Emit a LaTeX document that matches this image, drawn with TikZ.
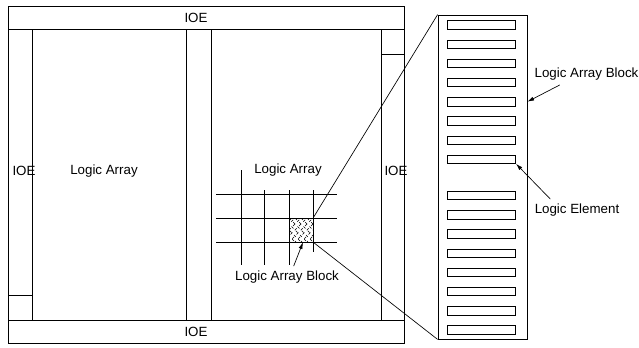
\documentclass[tikz,border=0pt]{standalone}
\usepackage{fontspec}
\setmainfont{Liberation Sans}
\usetikzlibrary{arrows.meta, positioning}

\begin{document}
\begin{tikzpicture}[
  x=0.75pt, y=-0.75pt,
  every node/.style = {font=\fontsize{10}{12}\selectfont},
  chipline/.style = {line width=0.6pt},
  element/.style = {draw, line width=0.5pt, minimum width=51pt, minimum height=6.3pt, inner sep=0pt},
  blockbox/.style = {draw, line width=0.6pt, minimum width=66.75pt, minimum height=243pt, inner sep=0pt},
  hatched/.style = {minimum width=18pt, minimum height=18pt, inner sep=0pt},
  pointer/.style = {-{Latex[length=5pt,width=3pt]}, line width=0.5pt},
  >=Latex
]
  \useasboundingbox (0,0) rectangle (639,347);

  % chip outline and IOE bands
  \draw[chipline] (8,6) rectangle (404,343);
  \draw[chipline] (8,29) -- (404,29);
  \draw[chipline] (8,320) -- (404,320);
  \draw[chipline] (32,29) -- (32,320);
  \draw[chipline] (8,295) -- (32,295);
  \draw[chipline] (186,29) -- (186,320);
  \draw[chipline] (211,29) -- (211,320);
  \draw[chipline] (381,29) -- (381,320);
  \draw[chipline] (381,54) -- (404,54);

  \node (ioetop) at (196,17.5) {IOE};
  \node (ioebot) at (196,331.5) {IOE};
  \node (ioeleft) at (24,171) {IOE};
  \node (ioeright) at (396,171) {IOE};
  \node (arrleft) at (104,171) {Logic Array};
  \node (arrright) at (288,170) {Logic Array};

  % routing grid
  \draw[chipline] (241,170) -- (241,265);
  \draw[chipline] (264,190) -- (264,265);
  \draw[chipline] (289,190) -- (289,265);
  \draw[chipline] (313,190) -- (313,252);
  \foreach \y in {194,218,242}
    \draw[chipline] (216,\y) -- (337,\y);

  % selected block
  \node[hatched] (blk) at (301,230) {};
  \begin{scope}
    \clip (289,218) rectangle (313,242);
    \foreach \d in {-24,-18,...,24} {
      \draw[line width=0.3pt, dash pattern=on 2pt off 2.5pt] (289+\d,218) -- (313+\d,242);
      \draw[line width=0.3pt, dash pattern=on 2pt off 2.5pt, dash phase=1pt] (289+\d,242) -- (313+\d,218);
    }
  \end{scope}

  \node (lablk) at (287,277) {Logic Array Block};
  \draw[pointer] ([xshift=5pt]lablk.north) -- ([xshift=1.5pt]blk.south);

  % enlarged block
  \node[blockbox] (lab) at (482.5,177) {};
  \foreach \i in {0,...,7}
    \node[element] (le\i) at (481.7,24.9+19.2*\i) {};
  \foreach \i in {8,...,15}
    \node[element] (le\i) at (481.7,195.5+19.2*\i-153.6) {};

  \draw[line width=0.5pt] (lab.north west) -- (blk.north east);
  \draw[line width=0.5pt] (lab.south west) -- (blk.south east);

  \node (lablbl) at (586.5,74) {Logic Array Block};
  \draw[pointer] ([xshift=-20pt]lablbl.south) -- (lab.east |- le4.center);

  \node (lelbl) at (577,210) {Logic Element};
  \draw[pointer] ([xshift=-20pt]lelbl.north) -- (le7.south east);
\end{tikzpicture}
\end{document}
